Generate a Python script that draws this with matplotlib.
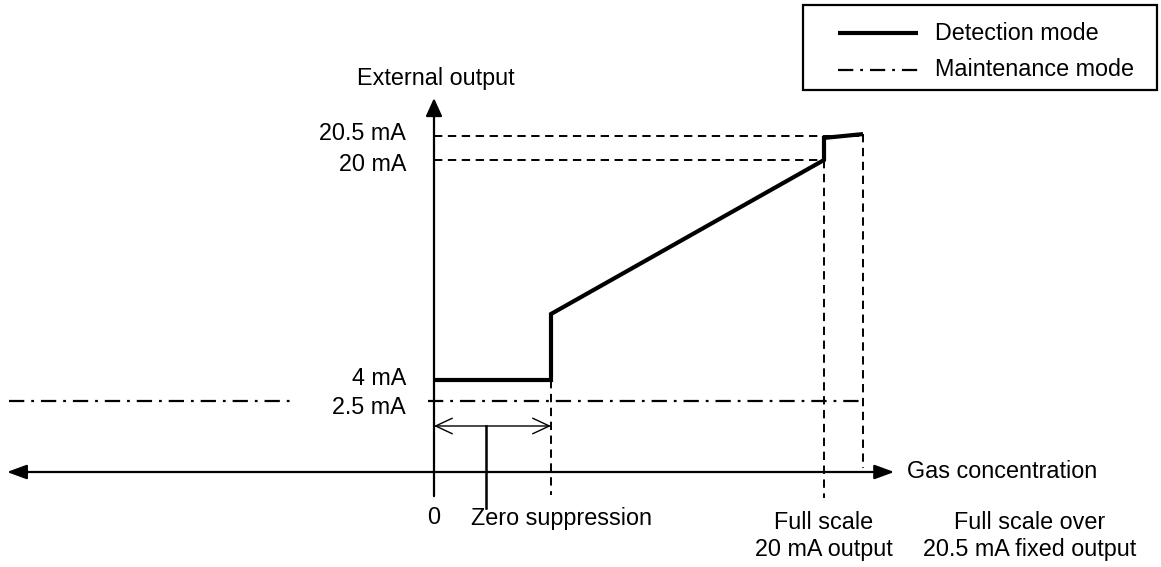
import numpy as np
import matplotlib.pyplot as plt
from matplotlib.lines import Line2D
from matplotlib.patches import Rectangle

plt.rcParams['font.family'] = ['Liberation Sans', 'DejaVu Sans']
plt.rcParams['font.size'] = 16.8
plt.rcParams['lines.scale_dashes'] = False

# gas concentration in % of full scale, output in mA
zero_sup = 30
full_scale = 100
over_range = 110
ramp_start_ma = 8.8

levels = [20.5, 20, 4, 2.5]
level_labels = ['20.5 mA', '20 mA', '4 mA', '2.5 mA']
label_nudge = [2, -3, 1, -5]   # points, vertical

det_x = [0, zero_sup, zero_sup, full_scale, full_scale, over_range]
det_y = [4, 4, ramp_start_ma, 20, 20.46, 20.54]

maint_y = 2.5
maint_left_x = [-109, -36]
maint_right_x = [-1.5, over_range]

# schematic output axis: not to scale, so map mA -> pixel rows piecewise
ma_knots = np.array([-10, 0, 2.5, 4, 20, 20.5, 30])
px_knots = np.array([756, 472, 401, 380, 160, 136, -320])


def fwd(y):
    return -np.interp(y, ma_knots, px_knots)


def inv(v):
    return np.interp(v, -px_knots, ma_knots)


W, H = 1161, 567
fig = plt.figure(figsize=(W / 100, H / 100), dpi=100)
ax = fig.add_axes([0, 0, 1, 1])
ax.set_yscale('function', functions=(fwd, inv))
ax.set_xlim(-434 / 3.9, (W - 434) / 3.9)
ax.set_ylim(inv(-H), inv(0))
ax.axis('off')

dash = (0, (6, 4))
dashdot = (0, (11, 5, 2, 5))
k = 'black'

# axes with arrows
ax.annotate('', xy=(0, 21.29), xytext=(0, -0.85),
            arrowprops=dict(arrowstyle='-|>,head_length=0.55,head_width=0.25',
                            mutation_scale=20, lw=1.6, color=k, shrinkA=0, shrinkB=0))
ax.annotate('', xy=(118, 0), xytext=(-109.5, 0),
            arrowprops=dict(arrowstyle='<|-|>,head_length=0.6,head_width=0.22',
                            mutation_scale=20, lw=1.6, color=k, shrinkA=0, shrinkB=0))

# guide lines
ax.plot([0, over_range], [20.5, 20.5], ls=dash, lw=1.4, color=k)
ax.plot([0, full_scale], [20, 20], ls=dash, lw=1.4, color=k)
ax.plot([zero_sup, zero_sup], [4, -0.81], ls=dash, lw=1.4, color=k)
ax.plot([full_scale, full_scale], [20, -0.92], ls=dash, lw=1.4, color=k)
ax.plot([over_range, over_range], [20.54, 0.15], ls=dash, lw=1.4, color=k)

# maintenance mode
ax.plot(maint_left_x, [maint_y, maint_y], ls=dashdot, lw=1.6, color=k)
ax.plot(maint_right_x, [maint_y, maint_y], ls=dashdot, lw=1.6, color=k)

# detection mode
ax.plot(det_x, det_y, lw=3, color=k, solid_joinstyle='miter', solid_capstyle='butt')

# zero suppression span
ax.annotate('', xy=(0, 1.62), xytext=(zero_sup, 1.62),
            arrowprops=dict(arrowstyle='<->,head_length=0.6,head_width=0.28',
                            mutation_scale=20, lw=1, color=k, shrinkA=0, shrinkB=0))
ax.plot([13.3, 13.3], [1.62, -1.27], lw=1.8, color=k)

# level labels
for lv, lb, dy in zip(levels, level_labels, label_nudge):
    ax.annotate(lb, xy=(0, lv), xytext=(-20, dy), textcoords='offset points',
                ha='right', va='center')

fig.text(357 / W, 1 - 78 / H, 'External output', ha='left', va='center')
fig.text(907 / W, 1 - 471 / H, 'Gas concentration', ha='left', va='center')
ax.text(0, -1.6, '0', ha='center', va='center')
fig.text(471 / W, 1 - 518 / H, 'Zero suppression', ha='left', va='center')
fig.text(824 / W, 1 - 536 / H, 'Full scale\n20 mA output', ha='center', va='center',
         linespacing=1.2)
fig.text(1030 / W, 1 - 536 / H, 'Full scale over\n20.5 mA fixed output', ha='center',
         va='center', linespacing=1.2)

# legend box
fig.add_artist(Rectangle((803 / W, 1 - 90 / H), (1157 - 803) / W, 85 / H,
                         transform=fig.transFigure, fill=False, lw=1.6, ec=k))
fig.add_artist(Line2D([838 / W, 918 / W], [1 - 33 / H] * 2, transform=fig.transFigure,
                      lw=3, color=k, solid_capstyle='butt'))
fig.add_artist(Line2D([838 / W, 918 / W], [1 - 70 / H] * 2, transform=fig.transFigure,
                      lw=1.6, ls=dashdot, color=k))
fig.text(935 / W, 1 - 33 / H, 'Detection mode', ha='left', va='center')
fig.text(935 / W, 1 - 70 / H, 'Maintenance mode', ha='left', va='center')

fig.savefig('out.png', dpi=100)
